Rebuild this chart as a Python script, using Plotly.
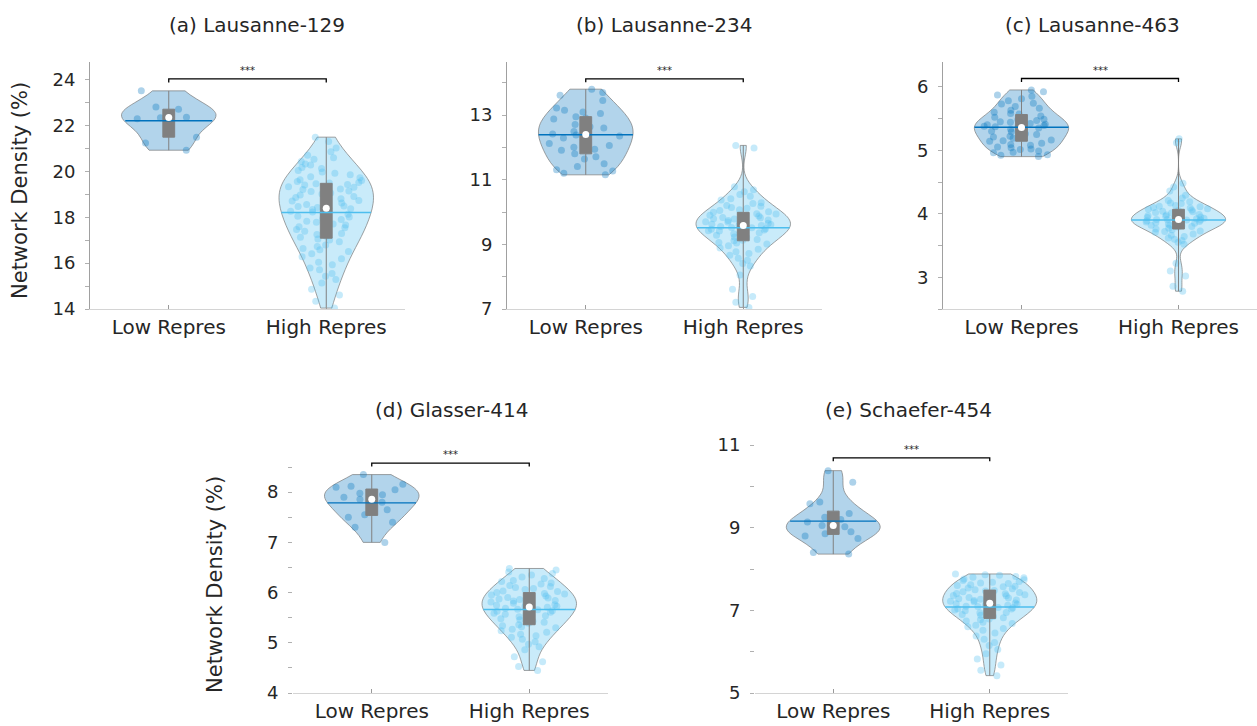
import numpy as np
import plotly.graph_objects as go

W, H = 1257, 726
FONT = "DejaVu Sans"
TXT = "#262626"

CATS = ["Low Repres", "High Repres"]
TITLES = ["(a) Lausanne-129", "(b) Lausanne-234", "(c) Lausanne-463",
          "(d) Glasser-414", "(e) Schaefer-454"]
YLABEL = "Network Density (%)"
SIG = "***"

# network density (%) per subject
a_low = [23.52, 22.82, 22.72, 22.41, 22.37, 22.35, 22.30, 21.50, 21.25, 20.93]
a_high = [21.50, 21.31, 21.03,
          20.86, 20.71, 20.60, 20.54,
          20.44, 20.33, 20.29, 20.18, 20.13, 20.04,
          19.98, 19.93, 19.86, 19.77, 19.73, 19.64, 19.61, 19.56, 19.52, 19.50,
          19.47, 19.43, 19.41, 19.34, 19.31, 19.24, 19.21, 19.15, 19.13, 19.06, 19.02,
          18.98, 18.91, 18.87, 18.81, 18.74, 18.71, 18.63, 18.60, 18.56, 18.50,
          18.47, 18.43, 18.37, 18.34, 18.27, 18.23, 18.16, 18.13, 18.05, 18.02,
          17.95, 17.91, 17.83, 17.79, 17.71, 17.67, 17.59, 17.55,
          17.47, 17.39, 17.36, 17.29, 17.25, 17.17, 17.13, 17.05, 17.01,
          16.93, 16.79, 16.73, 16.64, 16.59, 16.51,
          16.41, 16.28, 16.19, 16.04,
          15.93, 15.79, 15.71, 15.55,
          15.43, 15.29, 15.13,
          14.86, 14.61,
          14.34, 14.04]

b_low = [13.80, 13.70, 13.61, 13.45, 13.22, 13.15, 13.09, 13.05, 12.95, 12.91,
         12.88, 12.71, 12.64, 12.60, 12.56, 12.49, 12.41, 12.38, 12.35, 12.29,
         12.12, 12.06, 12.00, 11.94, 11.91, 11.80, 11.71, 11.64, 11.49, 11.41,
         11.31, 11.27, 11.20, 11.15]
b_high = [12.06, 11.98,
          10.78, 10.69, 10.63, 10.54,
          10.49, 10.41, 10.37, 10.29, 10.26, 10.20,
          10.18, 10.14, 10.12, 10.07, 10.05, 10.01, 9.99, 9.95, 9.94, 9.90,
          9.88, 9.87, 9.83, 9.82, 9.79, 9.78, 9.75, 9.74, 9.70, 9.69, 9.66, 9.65, 9.62, 9.61,
          9.59, 9.58, 9.55, 9.52, 9.51, 9.48, 9.47, 9.44, 9.42, 9.41, 9.37, 9.36, 9.33, 9.30,
          9.28, 9.23, 9.21, 9.15, 9.13, 9.11, 9.06, 9.04, 9.01,
          8.96, 8.89, 8.85, 8.77, 8.72,
          8.66, 8.57, 8.51, 8.41, 8.33,
          8.05, 7.61, 7.39, 7.21, 7.05]

c_low = [5.95, 5.92, 5.87, 5.85, 5.81,
         5.78, 5.74, 5.73, 5.69, 5.66, 5.63, 5.60,
         5.58, 5.57, 5.54, 5.52, 5.49, 5.48, 5.47, 5.45, 5.44, 5.42, 5.41, 5.40,
         5.39, 5.38, 5.37, 5.36, 5.35, 5.33, 5.32, 5.30, 5.29, 5.26, 5.25, 5.24, 5.22, 5.21,
         5.19, 5.16, 5.15, 5.14, 5.11, 5.09, 5.08, 5.05, 5.04, 5.02, 5.01,
         4.99, 4.97, 4.96, 4.93, 4.92, 4.90]
c_high = [5.18, 5.12,
          4.48, 4.42,
          4.36, 4.29, 4.25, 4.21,
          4.19, 4.17, 4.16, 4.13, 4.12, 4.11, 4.10,
          4.09, 4.08, 4.07, 4.06, 4.05, 4.04, 4.03, 4.02, 4.01,
          3.99, 3.98, 3.97, 3.96, 3.95, 3.95, 3.94, 3.93, 3.93, 3.92, 3.91, 3.91, 3.90, 3.90,
          3.89, 3.88, 3.87, 3.86, 3.86, 3.85, 3.84, 3.83, 3.82, 3.82, 3.81, 3.80,
          3.79, 3.77, 3.76, 3.75, 3.73, 3.72, 3.71,
          3.68, 3.66, 3.64, 3.62, 3.60,
          3.58, 3.55, 3.52,
          3.22, 3.10, 3.02, 2.86, 2.78]

d_low = [8.35, 8.16, 8.12, 8.10, 8.05, 7.98, 7.95, 7.90, 7.86, 7.80, 7.72,
         7.65, 7.55, 7.50, 7.40, 7.30, 7.00]
d_high = [6.48, 6.45, 6.41, 6.38, 6.35, 6.31,
          6.28, 6.24, 6.22, 6.19, 6.17, 6.14, 6.12, 6.10,
          6.08, 6.06, 6.03, 6.02, 6.00, 5.98, 5.97, 5.95, 5.93, 5.92, 5.90,
          5.89, 5.87, 5.86, 5.84, 5.83, 5.81, 5.79, 5.78, 5.76, 5.75, 5.73, 5.72, 5.71,
          5.69, 5.67, 5.66, 5.64, 5.63, 5.61, 5.59, 5.57, 5.56, 5.54, 5.52, 5.50,
          5.48, 5.46, 5.43, 5.41, 5.39, 5.36, 5.34, 5.32, 5.30,
          5.27, 5.24, 5.21, 5.17, 5.14, 5.11,
          5.07, 5.02, 4.97, 4.92,
          4.86, 4.72, 4.62, 4.53, 4.45]

e_low = [10.38, 10.10, 9.62, 9.58, 9.34, 9.25, 9.20, 9.14, 9.05, 9.02, 8.95,
         8.90, 8.85, 8.80, 8.74, 8.40, 8.36]
e_high = [7.88, 7.86, 7.85, 7.82, 7.80, 7.79, 7.76, 7.74, 7.72, 7.70,
          7.68, 7.66, 7.65, 7.62, 7.60, 7.58, 7.57, 7.54, 7.52, 7.50,
          7.48, 7.47, 7.45, 7.43, 7.41, 7.40, 7.38, 7.36, 7.35, 7.33, 7.31, 7.30,
          7.28, 7.27, 7.25, 7.24, 7.22, 7.21, 7.19, 7.18, 7.16, 7.15, 7.13, 7.12, 7.10,
          7.09, 7.07, 7.06, 7.04, 7.03, 7.01, 6.99, 6.97, 6.95, 6.94, 6.92, 6.90,
          6.88, 6.85, 6.82, 6.79, 6.77, 6.74, 6.71,
          6.68, 6.64, 6.60, 6.56, 6.52,
          6.45, 6.38, 6.30, 6.22,
          6.15, 6.05, 5.95,
          5.82, 5.68, 5.55, 5.42]

LOW = [a_low, b_low, c_low, d_low, e_low]
HIGH = [a_high, b_high, c_high, d_high, e_high]

# panel geometry in pixels: (left, right, top, bottom), y range, tick step, minor step
PANELS = [
    dict(px=(90, 405, 62, 309), yr=(14, 24.78), dt=2, t0=14, mdt=1, yline=True,
         bar=24.04, title=(257, 25), ylab=(20, 191)),
    dict(px=(507, 822, 62, 309), yr=(7, 14.64), dt=2, t0=7, mdt=1, yline=True,
         bar=14.12, title=(664, 25), ylab=None),
    dict(px=(943, 1257, 62, 309), yr=(2.5, 6.39), dt=1, t0=3, mdt=0.5, yline=True,
         bar=6.13, title=(1092, 25), ylab=None),
    dict(px=(293, 608, 452, 693), yr=(4, 8.8), dt=1, t0=4, mdt=0.5, yline=False,
         bar=8.58, title=(451, 410), ylab=(215, 585)),
    dict(px=(755, 1068, 445, 693), yr=(5, 11), dt=2, t0=5, mdt=1, yline=False,
         bar=10.69, title=(908, 410), ylab=None),
]

LOW_RGB = (0, 114, 189)
HIGH_RGB = (77, 190, 238)
HALF_W = 0.3          # half width of each violin, in category units
YTICK_SIZE = 18
XTICK_SIZE = 20
TITLE_SIZE = 20
YLABEL_SIZE = 21


def rgba(c, a):
    return f"rgba({c[0]},{c[1]},{c[2]},{a})"


def mean_halfwidth(vals):
    """Half width of the violin outline at the sample mean (Gaussian KDE with
    Silverman bandwidth, scaled so the widest point equals HALF_W)."""
    v = np.asarray(vals, dtype=float)
    n = len(v)
    q1, q3 = np.percentile(v, [25, 75])
    bw = 1.059 * min(v.std(ddof=1), (q3 - q1) / 1.349) * n ** -0.2
    lo, hi = v.min(), v.max()
    steps = int(np.ceil((hi - lo) / (bw / 3)))
    grid = np.linspace(lo, hi, steps + 1)

    def kde(t):
        return np.exp(-0.5 * ((t - v[:, None]) / bw) ** 2).sum(axis=0)

    dmax = kde(grid).max()
    return HALF_W * kde(np.array([v.mean()]))[0] / dmax


fig = go.Figure()
layout = dict(
    width=W, height=H, margin=dict(l=0, r=0, t=0, b=0, autoexpand=False),
    paper_bgcolor="white", plot_bgcolor="white",
    showlegend=False, violinmode="overlay", boxmode="overlay",
    font=dict(family=FONT, color=TXT),
    shapes=[], annotations=[],
)

for i, p in enumerate(PANELS):
    k = "" if i == 0 else str(i + 1)
    xa, ya = "x" + k, "y" + k
    l, r, t, b = p["px"]
    layout["xaxis" + k] = dict(
        domain=[l / W, r / W], range=[-0.5, 1.5], anchor=ya, automargin=False,
        tickmode="array", tickvals=[0, 1], ticktext=CATS,
        showgrid=False, zeroline=False, showline=True, linecolor="#d4d4d4",
        linewidth=1, ticks="inside", ticklen=4, tickcolor="#9a9a9a",
        tickfont=dict(size=XTICK_SIZE, color=TXT, family=FONT), ticklabelstandoff=0,
    )
    layout["yaxis" + k] = dict(
        domain=[1 - b / H, 1 - t / H], range=list(p["yr"]), anchor=xa, automargin=False,
        showgrid=False, zeroline=False,
        showline=p["yline"], linecolor="#a0a0a0", linewidth=1,
        ticks="outside", ticklen=4, tickcolor="#b0b0b0",
        tick0=p["t0"], dtick=p["dt"],
        minor=dict(ticks="outside", ticklen=4, tickcolor="#b0b0b0", dtick=p["mdt"],
                   tick0=p["t0"]),
        tickfont=dict(size=YTICK_SIZE, color=TXT, family=FONT), ticklabelstandoff=6,
    )

    for pos, vals, col in ((0, LOW[i], LOW_RGB), (1, HIGH[i], HIGH_RGB)):
        vals = np.asarray(vals, dtype=float)
        fig.add_trace(go.Violin(
            x=np.full(len(vals), pos), y=vals, xaxis=xa, yaxis=ya,
            width=2 * HALF_W, spanmode="hard", scalemode="width",
            fillcolor=rgba(col, 0.3), line=dict(color="#7a7a7a", width=0.7),
            points="all", pointpos=0, jitter=0.85,
            marker=dict(size=7, color=rgba(col, 0.32), line=dict(width=0)),
            meanline=dict(visible=False), box=dict(visible=False), hoverinfo="skip",
        ))
        # solid mean line spanning the violin
        m = float(vals.mean())
        hw = mean_halfwidth(vals)
        fig.add_trace(go.Scatter(
            x=[pos - hw, pos + hw], y=[m, m], xaxis=xa, yaxis=ya, mode="lines",
            line=dict(color=rgba(col, 1), width=1.4), hoverinfo="skip",
        ))
        fig.add_trace(go.Box(
            x=np.full(len(vals), pos), y=vals, xaxis=xa, yaxis=ya,
            width=0.075, boxpoints=False, whiskerwidth=0,
            fillcolor="rgb(128,128,128)", line=dict(color="rgb(128,128,128)", width=1),
            hoverinfo="skip",
        ))
        fig.add_trace(go.Scatter(
            x=[pos], y=[float(np.median(vals))], xaxis=xa, yaxis=ya, mode="markers",
            marker=dict(size=7, color="white", line=dict(width=0)), hoverinfo="skip",
        ))

    # significance bracket between the two groups
    yb = p["bar"]
    drop = (p["yr"][1] - p["yr"][0]) * 0.014
    layout["shapes"].append(dict(
        type="path", xref=xa, yref=ya,
        path=f"M 0,{yb - drop} L 0,{yb} L 1,{yb} L 1,{yb - drop}",
        line=dict(color="black", width=1.3),
    ))
    layout["annotations"].append(dict(
        x=0.5, y=yb, xref=xa, yref=ya, text=SIG, showarrow=False,
        yanchor="bottom", yshift=1, font=dict(size=10, color=TXT, family=FONT),
    ))

    tx, ty = p["title"]
    layout["annotations"].append(dict(
        x=tx / W, y=1 - ty / H, xref="paper", yref="paper", text=TITLES[i],
        showarrow=False, xanchor="center", yanchor="middle",
        font=dict(size=TITLE_SIZE, color=TXT, family=FONT),
    ))
    if p["ylab"]:
        lx, ly = p["ylab"]
        layout["annotations"].append(dict(
            x=lx / W, y=1 - ly / H, xref="paper", yref="paper", text=YLABEL,
            showarrow=False, textangle=-90, xanchor="center", yanchor="middle",
            font=dict(size=YLABEL_SIZE, color=TXT, family=FONT),
        ))

fig.update_layout(**layout)
fig.write_html("out.html")
